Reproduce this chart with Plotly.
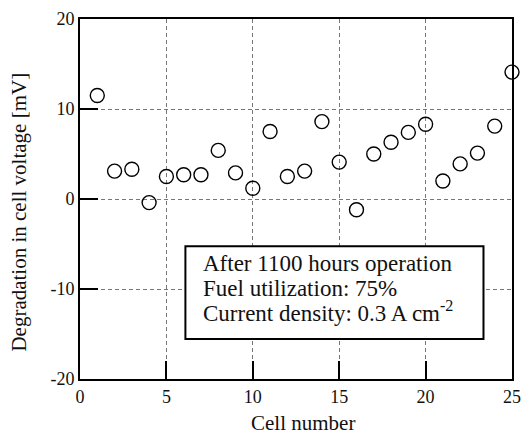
import plotly.graph_objects as go

cells = list(range(1, 26))
degradation = [11.5, 3.1, 3.3, -0.4, 2.5, 2.7, 2.7, 5.4, 2.9, 1.2,
               7.5, 2.5, 3.1, 8.6, 4.1, -1.2, 5.0, 6.3, 7.4, 8.3,
               2.0, 3.9, 5.1, 8.1, 14.1]
x_ticks = [0, 5, 10, 15, 20, 25]
x_ticktext = ["0", "5", "10", "15", "20", "25"]
y_ticks = [-20, -10, 0, 10, 20]
y_ticktext = ["-20", "-10", "0", "10", "20"]
note_lines = ["After 1100 hours operation",
              "Fuel utilization: 75%",
              "Current density: 0.3 A cm<sup>-2</sup>"]
x_title = "Cell number"
y_title = "Degradation in cell voltage [mV]"

FONT = "Liberation Serif"
TXT = "#111"

fig = go.Figure()
fig.add_trace(go.Scatter(
    x=cells, y=degradation, mode="markers",
    marker=dict(symbol="circle-open", size=14, color="black", line=dict(width=1.4)),
    cliponaxis=False, showlegend=False))

fig.add_shape(type="rect", xref="x", yref="y", x0=6.1, x1=23.35, y0=-15.55, y1=-5.25,
              line=dict(color="black", width=2), fillcolor="white", layer="above")
for t, yy in zip(note_lines, [-7.15, -9.9, -12.45]):
    fig.add_annotation(x=7.0, y=yy, xref="x", yref="y", text=t, showarrow=False,
                       xanchor="left", yanchor="middle",
                       font=dict(family=FONT, size=23, color=TXT))

# axis titles
fig.add_annotation(x=12.93, y=-0.123, xref="x", yref="paper", text=x_title,
                   showarrow=False, xanchor="center", yanchor="middle",
                   font=dict(family=FONT, size=21, color=TXT))
fig.add_annotation(x=-0.1406, y=-1.48, xref="paper", yref="y", text=y_title,
                   showarrow=False, xanchor="center", yanchor="middle", textangle=-90,
                   font=dict(family=FONT, size=21, color=TXT))

axis_common = dict(showline=True, linewidth=2, linecolor="black", mirror=True,
                   ticks="inside", ticklen=18, tickwidth=2, tickcolor="black",
                   showgrid=True, gridcolor="#777", gridwidth=1, griddash="4px,3px",
                   zeroline=False,
                   tickfont=dict(family=FONT, size=18, color=TXT))

fig.update_xaxes(range=[0, 25], tickvals=x_ticks, ticktext=x_ticktext, **axis_common)
fig.update_yaxes(range=[-20, 20], tickvals=y_ticks, ticktext=y_ticktext, **axis_common)

fig.update_layout(width=530, height=437, margin=dict(l=80, r=9, t=14, b=58),
                  plot_bgcolor="white", paper_bgcolor="white")
fig.write_html("out.html")
